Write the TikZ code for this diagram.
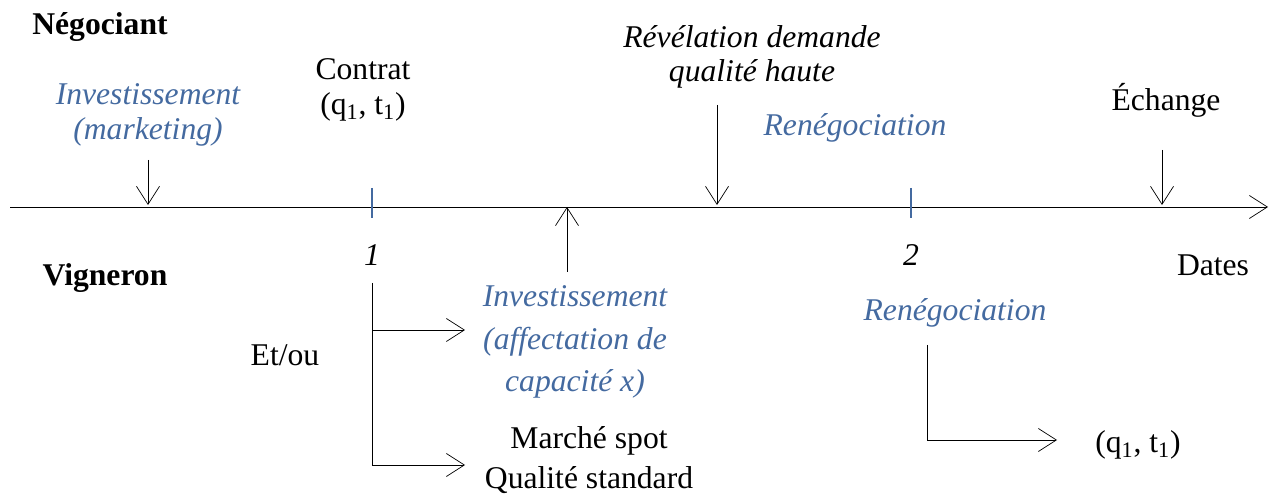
\documentclass[tikz,border=0pt]{standalone}
\usepackage{fontspec}
\setmainfont{Liberation Serif}
\usepackage{tikz}
\usetikzlibrary{arrows.meta, positioning}
\definecolor{bleu}{RGB}{68,106,160}
\tikzset{
    -{Straight Barb[length=3.6mm,width=4.6mm]}, line width=1.3pt,
    txt/.style  = {inner sep=0pt, align=center, font=\fontsize{18}{20}\selectfont},
    itxt/.style = {txt, font=\fontsize{18}{20}\selectfont\itshape},
    btxt/.style = {txt, text=bleu, font=\fontsize{18}{20}\selectfont\itshape},
    actor/.style = {txt, font=\fontsize{18}{20}\selectfont\bfseries},
    tick/.style = {-, draw=bleu, line width=1pt}
}

\begin{document}
\begin{tikzpicture}
    \useasboundingbox (0,0) rectangle (25.5,9.94);

    % axe des dates
    \coordinate (t0) at (0.2,5.8);
    \coordinate (tn) at (25.36,5.8);
    \draw (t0) -- (tn);

    \node (neg) at (2.0,9.4)  [actor] {Négociant};
    \node (vig) at (2.1,4.38) [actor] {Vigneron};

    \node (mkt) at (2.96,7.64) [btxt] {Investissement\\(marketing)};
    \node (ctr) at (7.26,8.14) [txt] {Contrat\\(q\textsubscript{1}, t\textsubscript{1})};
    \node (rev) at (15.04,8.8) [itxt, font=\fontsize{18}{19}\selectfont\itshape] {Révélation demande\\qualité haute};
    \node (ren1) at (17.1,7.38) [btxt] {Renégociation};
    \node (ech) at (23.32,7.94) [txt] {Échange};
    \node (dat) at (24.26,4.64) [txt] {Dates};

    \node (d1) at (7.44,4.84) [itxt] {1};
    \node (d2) at (18.22,4.84) [itxt] {2};

    \node (aff) at (11.5,3.1) [btxt, font=\fontsize{18}{24}\selectfont\itshape] {Investissement\\(affectation de\\capacité x)};
    \node (eto) at (5.7,2.84) [txt] {Et/ou};
    \node (spot) at (11.78,0.74) [txt, font=\fontsize{18}{23}\selectfont] {Marché spot\\Qualité standard};
    \node (ren2) at (19.1,3.68) [btxt] {Renégociation};
    \node (qt) at (22.76,1.04) [txt] {(q\textsubscript{1}, t\textsubscript{1})};

    % traits des dates
    \draw[tick] (7.44,6.18) -- (7.44,5.58);
    \draw[tick] (18.22,6.18) -- (18.22,5.58);

    % flèches sur l'axe
    \coordinate (a1) at (2.96,6.74);
    \coordinate (a1e) at (2.96,5.84);
    \coordinate (a2) at (14.34,7.84);
    \coordinate (a2e) at (14.34,5.84);
    \coordinate (a3) at (23.24,6.94);
    \coordinate (a3e) at (23.24,5.84);
    \coordinate (a4) at (11.34,4.5);
    \coordinate (a4e) at (11.34,5.8);
    \path (a1) edge (a1e);
    \path (a2) edge (a2e);
    \path (a3) edge (a3e);
    \path (a4) edge (a4e);

    % choix du vigneron
    \coordinate (b0) at (7.44,4.28);
    \coordinate (b1) at (7.44,3.34);
    \coordinate (b2) at (7.44,0.64);
    \coordinate (b1e) at (9.3,3.34);
    \coordinate (b2e) at (9.3,0.64);
    \draw[-] (b0) -- (b2);
    \path (b1) edge (b1e);
    \path (b2) edge (b2e);

    % renégociation
    \coordinate (r0) at (18.54,3.04);
    \coordinate (r1) at (18.54,1.14);
    \coordinate (r1e) at (21.14,1.14);
    \draw (r0) -- (r1) -- (r1e);
\end{tikzpicture}
\end{document}
